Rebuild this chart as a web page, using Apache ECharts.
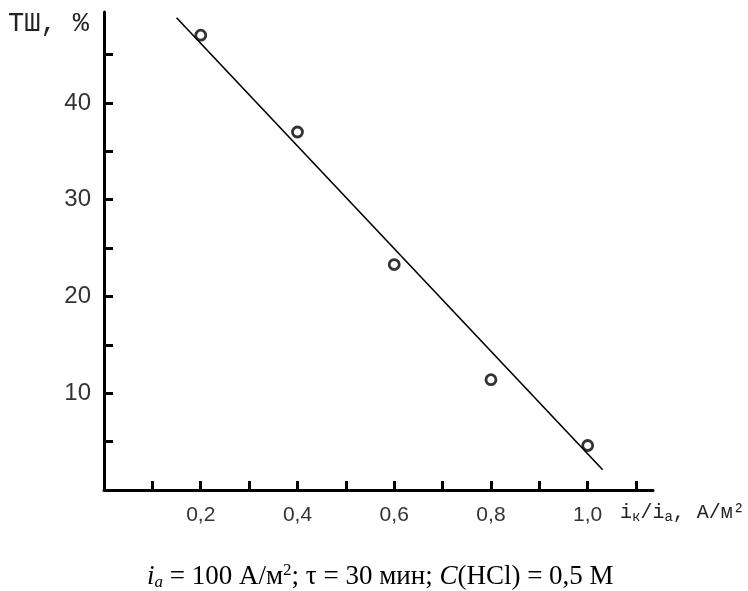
<!DOCTYPE html>
<html><head><meta charset="utf-8">
<script src="https://cdn.jsdelivr.net/npm/echarts@6/dist/echarts.min.js"></script>
<style>html,body{margin:0;padding:0;background:#fff}#c{width:748px;height:591px}</style>
</head><body><div id="c"></div>
<script>
// Data
const ratio = [0.2, 0.4, 0.6, 0.8, 1.0];          // iк/iа
const tsh = [47.0, 37.0, 23.3, 11.4, 4.6];          // ТШ, %
const fitX = [0.15, 1.031];                          // fitted line ends
const fitY = [48.8, 2.1];
const xTicks = [0.1, 0.2, 0.3, 0.4, 0.5, 0.6, 0.7, 0.8, 0.9, 1.0, 1.1];
const xLabels = [0.2, 0.4, 0.6, 0.8, 1.0];
const yTicks = [5, 10, 15, 20, 25, 30, 35, 40, 45];
const yLabels = [10, 20, 30, 40];

const chart = echarts.init(document.getElementById('c'));
const axisLine = {lineStyle: {color: '#000', width: 3}};
const tickLine = {color: '#000', width: 3};
chart.setOption({
  backgroundColor: '#fff',
  animation: false,
  grid: {left: 104, right: 95, top: 12, bottom: 101, containLabel: false},
  xAxis: {
    type: 'value', min: 0, max: 1.135,
    splitLine: {show: false},
    axisLine: axisLine,
    axisTick: {show: true, inside: true, length: 9, customValues: xTicks, lineStyle: tickLine},
    axisLabel: {customValues: xLabels, margin: 15, color: '#333', fontFamily: 'Liberation Sans', fontSize: 21,
      formatter: v => v.toFixed(1).replace('.', ',')}
  },
  yAxis: {
    type: 'value', min: 0, max: 49.4,
    splitLine: {show: false},
    axisLine: axisLine,
    axisTick: {show: true, inside: true, length: 9, customValues: yTicks, lineStyle: tickLine},
    axisLabel: {customValues: yLabels, margin: 13, color: '#333', fontFamily: 'Liberation Sans', fontSize: 24}
  },
  series: [
    {type: 'line', data: fitX.map((x, i) => [x, fitY[i]]), symbol: 'none',
     lineStyle: {color: '#000', width: 1.6}, z: 2},
    {type: 'scatter', data: ratio.map((x, i) => [x, tsh[i]]), symbol: 'circle', symbolSize: 10,
     itemStyle: {color: '#fff', borderColor: '#000', borderWidth: 2.8}, z: 3}
  ],
  graphic: [
    {type: 'text', left: 8, top: 10, style: {text: 'ТШ, %', font: '27px "Liberation Mono"', fill: '#222'}},
    {type: 'text', left: 620, top: 503, style: {
      text: 'i{s|к}/i{s|а}, А/м²', font: '20px "Liberation Mono"', fill: '#222',
      rich: {s: {font: '14px "Liberation Mono"', fill: '#222', padding: [8, 0, 0, 0]}}}},
    {type: 'text', left: 147, top: 562, style: {
      text: '{it|i}{sb|a} = 100 А/м{sp|2}; τ = 30 мин; {it|C}(HCl) = 0,5 М',
      font: '27px "Liberation Serif"', fill: '#000',
      rich: {
        it: {font: 'italic 27px "Liberation Serif"', fill: '#000'},
        sb: {font: 'italic 17px "Liberation Serif"', fill: '#000', padding: [12, 0, 0, 0]},
        sp: {font: '17px "Liberation Serif"', fill: '#000', padding: [0, 0, 13, 0]}
      }}}
  ]
});
</script></body></html>
